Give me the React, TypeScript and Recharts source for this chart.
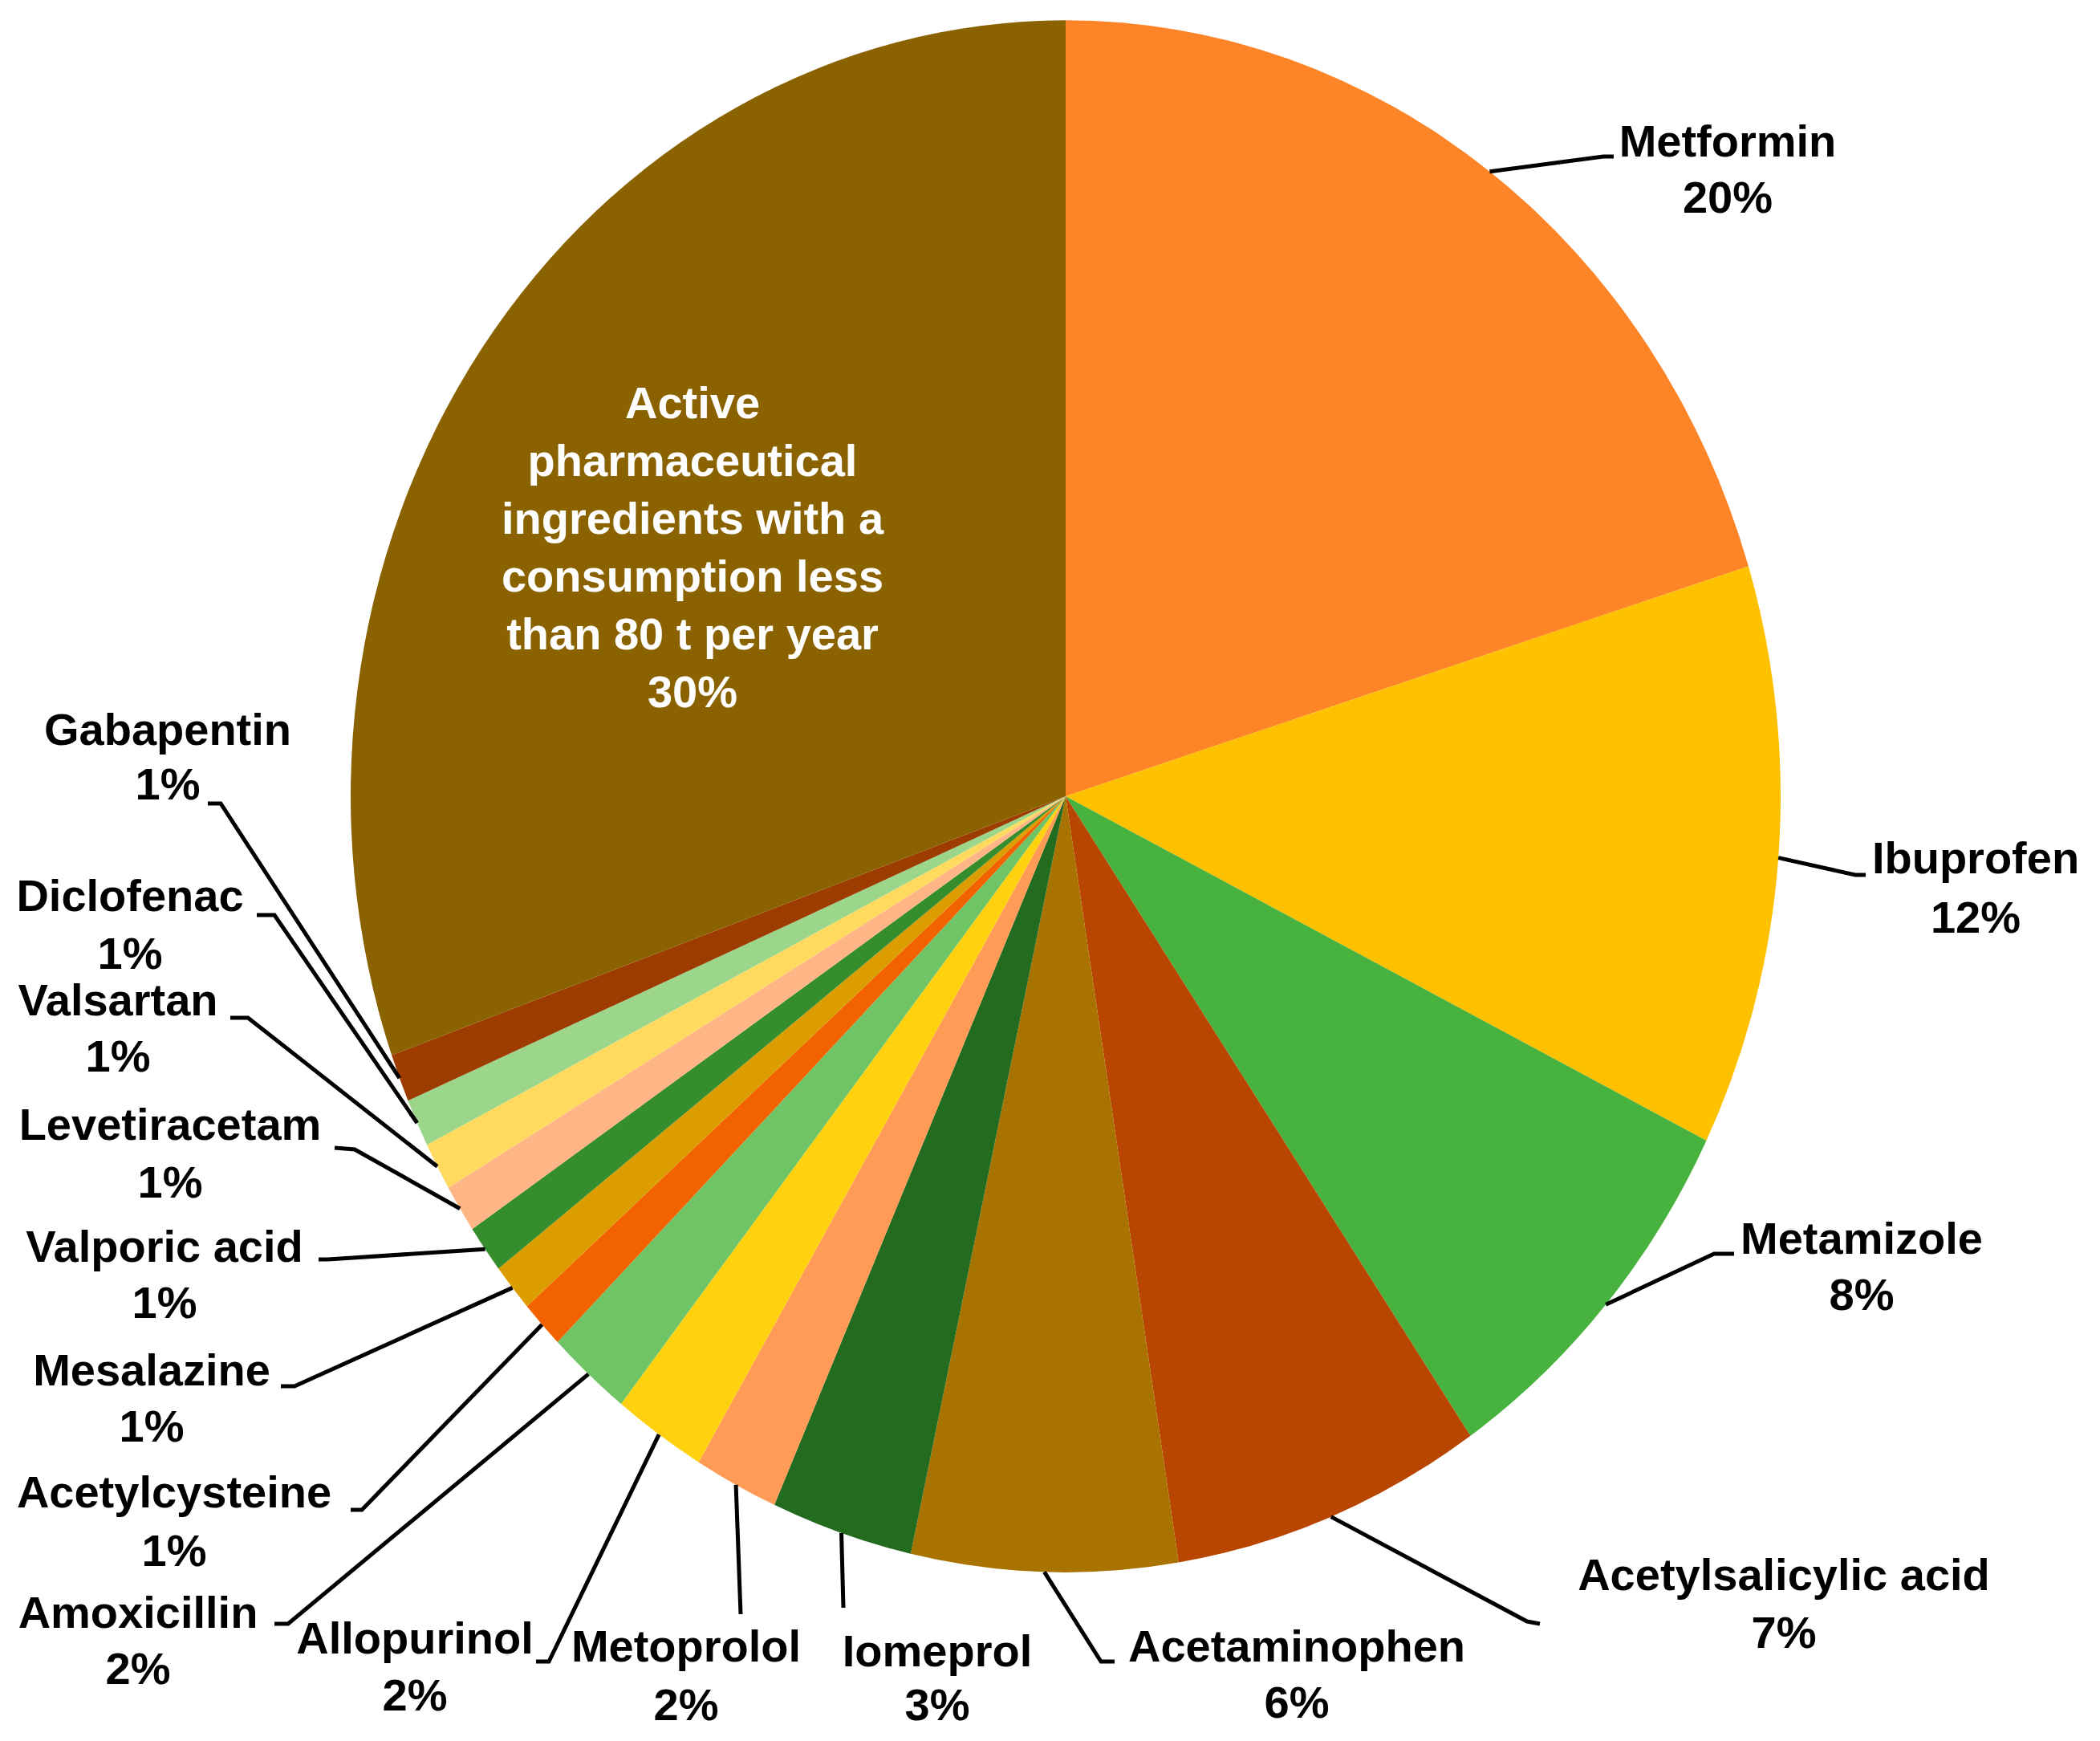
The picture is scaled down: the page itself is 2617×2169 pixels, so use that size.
import { PieChart, Pie, Cell } from 'recharts';

// slices, clockwise from 12 o'clock
const names = [
  'Metformin',
  'Ibuprofen',
  'Metamizole',
  'Acetylsalicylic acid',
  'Acetaminophen',
  'Iomeprol',
  'Metoprolol',
  'Allopurinol',
  'Amoxicillin',
  'Acetylcysteine',
  'Mesalazine',
  'Valporic acid',
  'Levetiracetam',
  'Valsartan',
  'Diclofenac',
  'Gabapentin',
  'Active pharmaceutical ingredients with a consumption less than 80 t per year',
];

const values = [20.2, 12.1, 8.1, 7.05, 6.0, 3.2, 1.9, 2.1, 1.9, 1.0, 1.0, 1.0, 1.0, 1.0, 1.0, 1.0, 30.4];

const colors = [
  '#FE8428', '#FDC100', '#47B23E', '#B84600', '#A87300', '#236B1F', '#FF9B56', '#FFD10F', '#6FC466',
  '#F26300', '#DC9D00', '#358D2E', '#FFB585', '#FFDA5E', '#9BD68A', '#9C3C00', '#8A6200',
];

const activeLines = ['Active', 'pharmaceutical', 'ingredients with a', 'consumption less', 'than 80 t per year'];

const data = names.map((name, i) => ({ name, value: values[i] }));

const W = 2601;
const H = 2153;
const CX = 1320;
const CY = 984;
const R = 891;
const SY = 1.085; // the pie in the picture is a bit taller than wide
const RAD = Math.PI / 180;
const FONT = '"Liberation Sans", Arial, sans-serif';

// where each label sits: text centre x, name line y, percent line y, leader elbow, leader end
const labelPos = [
  { x: 2145, y1: 167, y2: 237, ex: 1990, ey: 187, tx: 2003, ty: 187 },
  { x: 2454, y1: 1060, y2: 1134, ex: 2304, ey: 1082, tx: 2317, ty: 1082 },
  { x: 2312, y1: 1534, y2: 1604, ex: 2128, ey: 1554, tx: 2153, ty: 1554 },
  { x: 2215, y1: 1953, y2: 2025, ex: 1895, ey: 2012, tx: 1911, ty: 2015 },
  { x: 1608, y1: 2042, y2: 2112, ex: 1364, ey: 2062, tx: 1381, ty: 2062 },
  { x: 1160, y1: 2048, y2: 2115, ex: 1043, ey: 1995, tx: 1043, ty: 1995 },
  { x: 847, y1: 2042, y2: 2115, ex: 915, ey: 2003, tx: 915, ty: 2003 },
  { x: 509, y1: 2032, y2: 2103, ex: 676, ey: 2062, tx: 660, ty: 2062 },
  { x: 164, y1: 2000, y2: 2070, ex: 351, ey: 2015, tx: 334, ty: 2015 },
  { x: 209, y1: 1850, y2: 1923, ex: 443, ey: 1873, tx: 429, ty: 1873 },
  { x: 181, y1: 1698, y2: 1768, ex: 359, ey: 1719, tx: 342, ty: 1719 },
  { x: 197, y1: 1544, y2: 1614, ex: 401, ey: 1561, tx: 389, ty: 1561 },
  { x: 204, y1: 1392, y2: 1464, ex: 434, ey: 1424, tx: 409, ty: 1422 },
  { x: 139, y1: 1237, y2: 1307, ex: 301, ey: 1260, tx: 279, ty: 1260 },
  { x: 154, y1: 1107, y2: 1179, ex: 334, ey: 1132, tx: 312, ty: 1132 },
  { x: 201, y1: 900, y2: 968, ex: 267, ey: 993, tx: 251, ty: 993 },
];

const textStyle = {
  fontFamily: FONT,
  fontWeight: 'bold' as const,
  fontSize: 56,
};

const renderLabel = (props: any) => {
  const { cx, cy, midAngle, outerRadius, index, value } = props;
  const pct = `${Math.round(value)}%`;

  if (index === names.length - 1) {
    const lines = [...activeLines, pct];
    return (
      <text x={855} y={493} fill="#fff" textAnchor="middle" dominantBaseline="central" style={textStyle}>
        {lines.map((l, i) => (
          <tspan key={i} x={855} dy={i === 0 ? 0 : 72}>
            {l}
          </tspan>
        ))}
      </text>
    );
  }

  const p = labelPos[index];
  const sx = cx + outerRadius * Math.cos(-midAngle * RAD);
  const sy = cy + outerRadius * Math.sin(-midAngle * RAD) * SY;

  return (
    <g>
      <polyline
        points={`${sx},${sy} ${p.ex},${p.ey} ${p.tx},${p.ty}`}
        fill="none"
        stroke="#000"
        strokeWidth={5}
      />
      <text x={p.x} y={p.y1} fill="#000" textAnchor="middle" dominantBaseline="central" style={textStyle}>
        {names[index]}
      </text>
      <text x={p.x} y={p.y2} fill="#000" textAnchor="middle" dominantBaseline="central" style={textStyle}>
        {pct}
      </text>
    </g>
  );
};

export default function App() {
  return (
    <div style={{ width: W, height: H, background: '#fff' }}>
      <style>{`.recharts-sector { transform: scale(1, ${SY}); transform-origin: ${CX}px ${CY}px; }`}</style>
      <PieChart width={W} height={H} margin={{ top: 0, right: 0, bottom: 0, left: 0 }}>
        <Pie
          data={data}
          dataKey="value"
          nameKey="name"
          cx={CX}
          cy={CY}
          outerRadius={R}
          startAngle={90}
          endAngle={-270}
          stroke="none"
          label={renderLabel}
          labelLine={false}
          isAnimationActive={false}
        >
          {data.map((d, i) => (
            <Cell key={d.name} fill={colors[i]} />
          ))}
        </Pie>
      </PieChart>
    </div>
  );
}
